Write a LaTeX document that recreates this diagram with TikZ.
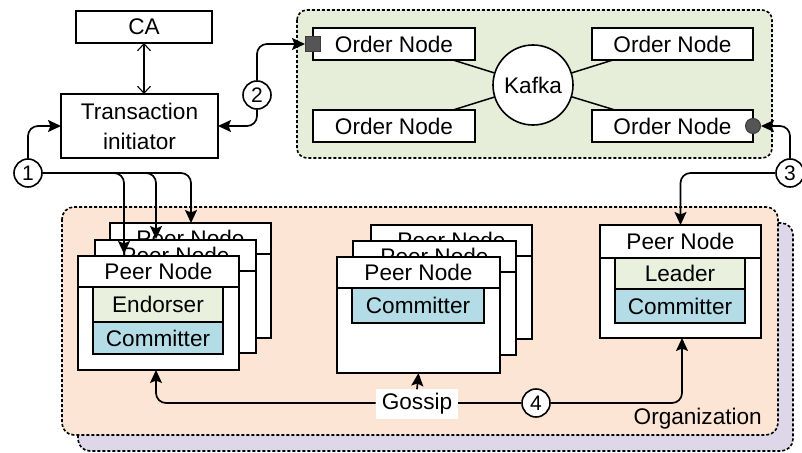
\documentclass[tikz,border=0pt]{standalone}
\usepackage{fontspec}
\setmainfont{Liberation Sans}
\usetikzlibrary{arrows.meta,calc}

\definecolor{ordbg}{HTML}{E6EEDA}
\definecolor{orgbg}{HTML}{FCE5D5}
\definecolor{orgsh}{HTML}{DDD7E9}
\definecolor{endc}{HTML}{EAF0DE}
\definecolor{comc}{HTML}{B3DCE6}
\definecolor{markc}{HTML}{555555}

\newcommand{\lbl}{\fontsize{22.6}{26}\selectfont}

\tikzset{
  blk/.style={draw, line width=1.6pt, fill=white, inner sep=0pt, outer sep=0pt,
    anchor=north west, font=\lbl},
  num/.style={draw, circle, line width=1.6pt, fill=white, inner sep=0pt,
    minimum size=28pt, font=\fontsize{21}{24}\selectfont},
  grp/.style={draw, line width=1.6pt, densely dashed, rounded corners=12pt},
  arr/.style={line width=1.7pt, rounded corners=10pt,
    -{Stealth[length=13pt,width=12pt,inset=2.5pt]}},
  con/.style={line width=1.7pt, rounded corners=10pt},
}

\begin{document}
\begin{tikzpicture}[x=1pt,y=-1pt]
\useasboundingbox (0,0) rectangle (802,452);

% ---- ordering service ----
\draw[grp, fill=ordbg, rounded corners=10pt] (297,10) rectangle (772,158);
\node[blk, minimum width=162pt, minimum height=32pt] (o1) at (313,28) {Order Node};
\node[blk, minimum width=161pt, minimum height=32pt] (o2) at (592,28) {Order Node};
\node[blk, minimum width=162pt, minimum height=32pt] (o3) at (313,110) {Order Node};
\node[blk, minimum width=161pt, minimum height=32pt] (o4) at (592,110) {Order Node};
\node[draw, circle, line width=1.6pt, fill=white, minimum size=80pt, inner sep=0pt,
  font=\lbl] (kafka) at (533,85) {Kafka};
\draw[line width=1.5pt] (kafka) -- ($(o1.south east)+(-22,0)$);
\draw[line width=1.5pt] (kafka) -- ($(o2.south west)+(21,0)$);
\draw[line width=1.5pt] (kafka) -- ($(o3.north east)+(-22,0)$);
\draw[line width=1.5pt] (kafka) -- ($(o4.north west)+(23,0)$);
\node[draw=markc!70!black, fill=markc, line width=1pt, minimum size=15pt,
  inner sep=0pt] (sq) at (o1.west) {};
\node[draw=markc!70!black, fill=markc, circle, line width=1pt, minimum size=15pt,
  inner sep=0pt] (dot) at (o4.east) {};

% ---- client side ----
\node[blk, minimum width=136pt, minimum height=32pt] (ca) at (76,11) {CA};
\node[blk, minimum width=157pt, minimum height=64pt, align=center,
  font=\fontsize{22.6}{30}\selectfont] (ti) at (61,94) {Transaction\\initiator};
\draw[line width=1.1pt, {Straight Barb[length=7pt,width=13pt]}-{Straight Barb[length=7pt,width=13pt]}]
  (ca.south) -- (ca.south |- ti.north);

% ---- organization ----
\draw[grp, fill=orgsh] (78,223) rectangle (793,451);
\draw[grp, fill=orgbg] (62,207) rectangle (778,435);
\node[anchor=east, font=\lbl, inner sep=0pt] (org) at (762,419) {Organization};

% left stack of endorsing peers
\node[blk, minimum width=161pt, minimum height=115pt] (lb) at (110,223) {};
\node[blk, minimum width=161pt, minimum height=31pt] (lbh) at (110,223) {Peer Node};
\node[blk, minimum width=161pt, minimum height=113pt] (lm) at (95,240) {};
\node[blk, minimum width=161pt, minimum height=31pt] (lmh) at (95,240) {Peer Node};
\node[blk, minimum width=161pt, minimum height=114pt] (lf) at (78,256) {};
\node[blk, minimum width=161pt, minimum height=31pt] (lfh) at (78,256) {Peer Node};
\node[blk, fill=endc, minimum width=130pt, minimum height=35pt] (lfe) at (93,287) {Endorser};
\node[blk, fill=comc, minimum width=130pt, minimum height=32pt] (lfc) at (93,322) {Committer};

% middle stack of committing peers
\node[blk, minimum width=161pt, minimum height=114pt] (mb) at (371,225) {};
\node[blk, minimum width=161pt, minimum height=31pt] (mbh) at (371,225) {Peer Node};
\node[blk, minimum width=163pt, minimum height=114pt] (mm) at (353,241) {};
\node[blk, minimum width=163pt, minimum height=31pt] (mmh) at (353,241) {Peer Node};
\node[blk, minimum width=163pt, minimum height=116pt] (mf) at (337,257) {};
\node[blk, minimum width=163pt, minimum height=31pt] (mfh) at (337,257) {Peer Node};
\node[blk, fill=comc, minimum width=132pt, minimum height=35pt] (mfc) at (352,288) {Committer};

% leader peer
\node[blk, minimum width=161pt, minimum height=113pt] (rp) at (600,225) {};
\node[blk, minimum width=161pt, minimum height=33pt] (rph) at (600,225) {Peer Node};
\node[blk, fill=endc, minimum width=130pt, minimum height=31pt] (rpl) at (615,258) {Leader};
\node[blk, fill=comc, minimum width=130pt, minimum height=34pt] (rpc) at (615,289) {Committer};

% ---- step markers ----
\node[num] (c1) at (28,173) {1};
\node[num] (c2) at (257,95) {2};
\node[num] (c3) at (790,173) {3};
\node[num] (c4) at (536,403) {4};
\node[fill=white, font=\lbl, inner xsep=6pt, inner ysep=4pt] (gos) at (417,404) {Gossip};
\coordinate (gw) at (gos.west |- c4.west);
\coordinate (ge) at (gos.east |- c4.west);

% ---- flows ----
\draw[arr] (c1.north) |- (ti.west);
\draw[arr] (c1.east) -| ($(lf.north west)+(46,-2)$);
\draw[arr] (c1.east) -| ($(lm.north west)+(61,-1)$);
\draw[arr] (c1.east) -| ($(lb.north west)+(81,0)$);

\draw[arr] (c2.south) |- (ti.east);
\draw[arr] (c2.north) |- (sq.west);

\draw[arr] (c3.north) |- (dot.east);
\draw[arr] (c3.west) -| (rp.north);

\draw[arr] (gos.north) -- (mf.south);
\draw[arr] (gw) -| ($(lf.south west)+(78,0)$);
\draw[con] (ge) -- (c4.west);
\draw[arr] (c4.east) -| ($(rp.south west)+(82,0)$);
\end{tikzpicture}
\end{document}
